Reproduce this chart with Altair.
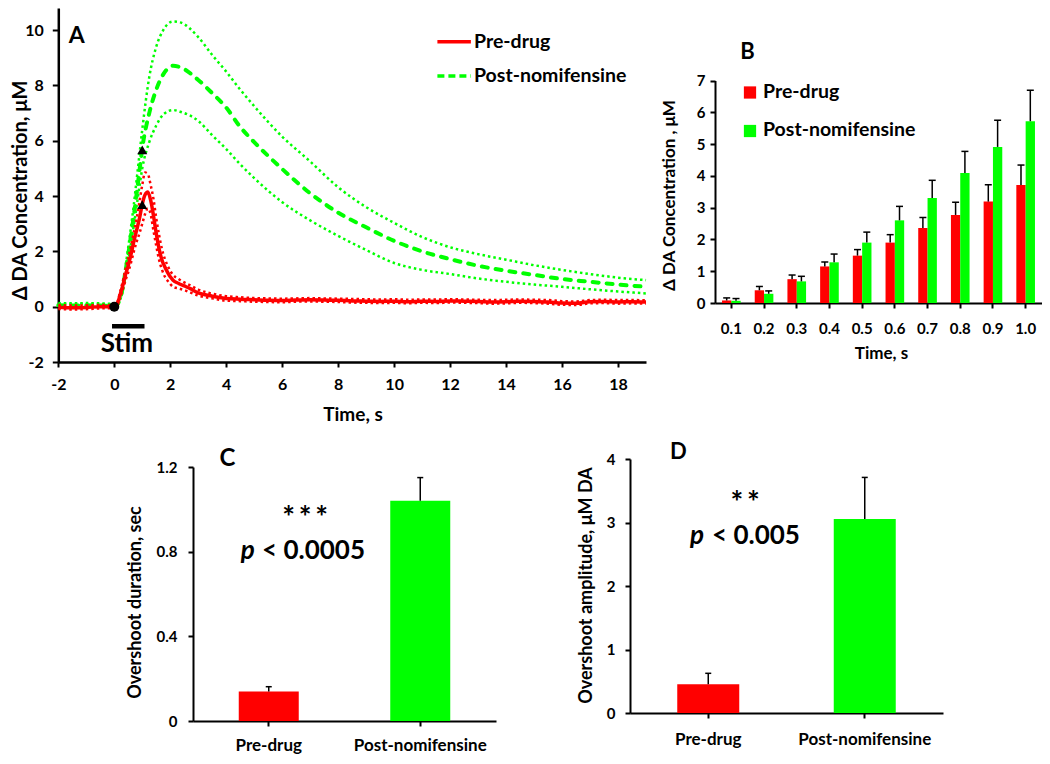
import altair as alt
import pandas as pd

FONT = "Lato"
RED = "#ff0000"
GREEN = "#00ff00"
BLACK = "#000000"

groups = ["Pre-drug", "Post-nomifensine"]

# ---------------- Panel A : time courses ----------------
red_t = [-2, -1.5, -1, -0.5, 0,
         0.1, 0.2, 0.3, 0.4, 0.5, 0.6, 0.7, 0.8, 0.9, 1.0,
         1.1, 1.2, 1.3, 1.4, 1.5, 1.6, 1.7, 1.8, 1.9, 2.0, 2.1,
         2.3, 2.5, 2.7, 3.0,
         3.5, 4.0, 4.5, 5.0, 5.5, 6.0, 6.5, 7.0, 7.5, 8.0, 8.5, 9.0, 9.5, 10.0,
         10.5, 11.0, 11.5, 12.0, 12.5, 13.0, 13.5, 14.0, 14.5, 15.0, 15.5, 16.0,
         16.5, 17.0, 17.5, 18.0, 18.5, 19.0]
red_mean = [-0.02, -0.04, -0.03, 0.00, 0.00,
            0.08, 0.40, 0.75, 1.15, 1.49, 1.90, 2.36, 2.77, 3.19, 3.71,
            4.05, 4.15, 3.85, 3.30, 2.65, 2.10, 1.70, 1.45, 1.25, 1.08, 0.96,
            0.84, 0.75, 0.66, 0.50,
            0.38, 0.30, 0.27, 0.25, 0.23, 0.22, 0.24, 0.25, 0.24, 0.23, 0.21, 0.20, 0.19, 0.20,
            0.18, 0.20, 0.19, 0.21, 0.20, 0.19, 0.17, 0.18, 0.20, 0.19, 0.17, 0.13,
            0.12, 0.18, 0.19, 0.17, 0.18, 0.17]
red_hi = [0.06, 0.04, 0.05, 0.06, 0.05,
          0.15, 0.50, 0.90, 1.35, 1.75, 2.20, 2.70, 3.20, 3.80, 4.40,
          4.85, 4.80, 4.40, 3.90, 3.20, 2.60, 2.10, 1.75, 1.50, 1.30, 1.15,
          1.00, 0.88, 0.78, 0.62,
          0.47, 0.38, 0.34, 0.31, 0.30, 0.29, 0.30, 0.31, 0.30, 0.29, 0.28, 0.27, 0.26, 0.27,
          0.25, 0.26, 0.26, 0.27, 0.26, 0.25, 0.24, 0.25, 0.26, 0.25, 0.24, 0.20,
          0.19, 0.24, 0.25, 0.24, 0.24, 0.23]
red_lo = [-0.08, -0.10, -0.09, -0.06, -0.05,
          0.02, 0.30, 0.60, 0.95, 1.25, 1.60, 2.00, 2.35, 2.65, 3.00,
          3.35, 3.55, 3.35, 2.75, 2.20, 1.70, 1.35, 1.10, 0.95, 0.82, 0.72,
          0.66, 0.60, 0.52, 0.40,
          0.30, 0.22, 0.20, 0.18, 0.17, 0.16, 0.18, 0.19, 0.18, 0.17, 0.15, 0.14, 0.13, 0.14,
          0.12, 0.14, 0.13, 0.15, 0.14, 0.13, 0.11, 0.12, 0.14, 0.13, 0.11, 0.07,
          0.06, 0.12, 0.13, 0.11, 0.12, 0.11]

green_t = [-2, -1.5, -1, -0.5, 0,
           0.1, 0.2, 0.3, 0.4, 0.5, 0.6, 0.7, 0.8, 0.9, 1.0,
           1.25, 1.5, 1.75, 2.1, 2.35,
           3.0, 3.5, 4.0, 4.5, 5.0,
           6, 7, 8, 9, 10, 11, 12, 13, 14, 15, 16, 17, 18, 19]
green_mean = [0.05, 0.04, 0.05, 0.04, 0.03,
              0.07, 0.29, 0.68, 1.28, 1.90, 2.60, 3.30, 4.09, 4.91, 5.72,
              7.00, 7.85, 8.40, 8.71, 8.66,
              8.20, 7.72, 7.20, 6.50, 5.95,
              4.98, 4.10, 3.40, 2.87, 2.38, 2.00, 1.72, 1.48, 1.30, 1.15, 1.00, 0.90, 0.80, 0.72]
green_hi = [0.13, 0.12, 0.13, 0.12, 0.10,
            0.12, 0.38, 0.82, 1.45, 2.15, 2.90, 3.70, 4.60, 5.50, 6.40,
            8.30, 9.40, 10.00, 10.31, 10.28,
            9.75, 9.10, 8.50, 7.85, 7.25,
            6.15, 5.25, 4.32, 3.60, 3.03, 2.52, 2.15, 1.90, 1.70, 1.50, 1.33, 1.18, 1.05, 0.96]
green_lo = [0.10, 0.09, 0.10, 0.09, 0.08,
            0.04, 0.22, 0.55, 1.10, 1.65, 2.30, 2.95, 3.65, 4.35, 5.00,
            5.95, 6.55, 6.95, 7.11, 7.05,
            6.72, 6.20, 5.70, 5.15, 4.65,
            3.78, 3.12, 2.56, 2.05, 1.58, 1.33, 1.18, 1.02, 0.90, 0.80, 0.72, 0.63, 0.55, 0.48]

marker_t = [0.0, 1.0, 1.0]
marker_v = [0.0, 5.67, 3.69]
marker_shape = ["circle", "triangle-up", "triangle-up"]

stim_on, stim_off = 0.0, 1.0

# ---------------- Panel B : first second ----------------
times = ["0.1", "0.2", "0.3", "0.4", "0.5", "0.6", "0.7", "0.8", "0.9", "1.0"]
pre_mean = [0.08, 0.40, 0.75, 1.15, 1.49, 1.90, 2.36, 2.77, 3.19, 3.71]
pre_top = [0.16, 0.52, 0.88, 1.29, 1.68, 2.15, 2.69, 3.17, 3.72, 4.34]
post_mean = [0.07, 0.29, 0.68, 1.28, 1.90, 2.60, 3.30, 4.09, 4.91, 5.72]
post_top = [0.14, 0.38, 0.84, 1.54, 2.23, 3.04, 3.86, 4.77, 5.75, 6.69]

# ---------------- Panels C, D ----------------
dur_mean = [0.139, 1.041]
dur_top = [0.162, 1.150]
amp_mean = [0.452, 3.055]
amp_top = [0.625, 3.710]

one = pd.DataFrame({"k": [0]})

W, H = 1034, 748  # whole drawing area (page minus margins)
HYPHEN = "replace(datum.label, '\u2212', '-')"


def ax(**kw):
    base = dict(labelFont=FONT, labelFontWeight="bold", labelColor=BLACK,
                titleFont=FONT, titleFontWeight="bold", titleColor=BLACK,
                domainColor=BLACK, tickColor=BLACK, grid=False,
                labelFlush=False, labelOverlap=False,
                domainWidth=2, tickWidth=2, tickSize=5)
    base.update(kw)
    return alt.Axis(**base)


def txt(text, x, y, size, align="center", baseline="middle", italic=False):
    return alt.Chart(one).mark_text(
        text=text, font=FONT, fontWeight="bold",
        fontStyle="italic" if italic else "normal", fontSize=size,
        align=align, baseline=baseline, color=BLACK
    ).encode(x=alt.value(x), y=alt.value(y))


colorG = alt.Color("group:N", scale=alt.Scale(domain=groups, range=[RED, GREEN]), legend=None)

# ================= A =================
A_X0, A_X1, A_Y0, A_Y1 = 50.3, 638, 354, 0
A_xaxis = ax(orient="bottom", offset=A_Y0 - H, values=list(range(-2, 19, 2)),
             title="Time, s", titleFontSize=19, labelFontSize=16, labelPadding=9,
             titleX=344.5, titleY=43, domainWidth=2.5, labelExpr=HYPHEN)
A_yaxis = ax(orient="left", offset=-A_X0, values=list(range(-2, 11, 2)),
             title="Δ DA Concentration, μM", titleFontSize=20, labelFontSize=16,
             tickSize=6, labelPadding=9, titleX=-28, titleY=182, domainWidth=2.5,
             labelExpr=HYPHEN)


def xA(f="t"):
    return alt.X(f"{f}:Q", scale=alt.Scale(domain=[-2, 19], range=[A_X0, A_X1], nice=False),
                 axis=A_xaxis)


def yA(f):
    return alt.Y(f"{f}:Q", scale=alt.Scale(domain=[-2, 10.8], range=[A_Y0, A_Y1], nice=False),
                 axis=A_yaxis)


dfR = pd.DataFrame({"t": red_t, "mean": red_mean, "hi": red_hi, "lo": red_lo})
dfG = pd.DataFrame({"t": green_t, "mean": green_mean, "hi": green_hi, "lo": green_lo})


def curve(df, f, color, width, dash=None, cap="butt"):
    kw = dict(color=color, strokeWidth=width, interpolate="monotone", strokeCap=cap)
    if dash is not None:
        kw["strokeDash"] = dash
    return alt.Chart(df).mark_line(**kw).encode(x=xA(), y=yA(f))


dot = [2.5, 3]
g_hi = curve(dfG, "hi", GREEN, 2.5, dot)
g_lo = curve(dfG, "lo", GREEN, 2.5, dot)
g_mean = curve(dfG, "mean", GREEN, 4, [6, 8], cap="round")
r_hi = curve(dfR, "hi", RED, 2.5, dot)
r_lo = curve(dfR, "lo", RED, 2.5, dot)
r_mean = curve(dfR, "mean", RED, 3.5)

dfM = pd.DataFrame({"t": marker_t, "v": marker_v, "shape": marker_shape})
markers = alt.Chart(dfM).mark_point(filled=True, color=BLACK, opacity=1, size=100).encode(
    x=xA(), y=yA("v"), shape=alt.Shape("shape:N", scale=None, legend=None))

dfS = pd.DataFrame({"t0": [stim_on], "t1": [stim_off], "v": [-0.71]})
stim_bar = alt.Chart(dfS).mark_rule(color=BLACK, strokeWidth=4.5, strokeCap="square").encode(
    x=xA("t0"), x2=alt.X2("t1"), y=yA("v"))
dfST = pd.DataFrame({"t": [0.45], "v": [-1.34], "label": ["Stim"]})
stim_txt = alt.Chart(dfST).mark_text(font=FONT, fontWeight="bold", fontSize=26,
                                     color=BLACK).encode(x=xA(), y=yA("v"), text="label:N")

leg_red = alt.Chart(one).mark_rule(color=RED, strokeWidth=3.5).encode(
    x=alt.value(429.4), x2=alt.value(462.9), y=alt.value(33.7))
leg_green = alt.Chart(one).mark_rule(color=GREEN, strokeWidth=3.5, strokeDash=[7, 4]).encode(
    x=alt.value(429.4), x2=alt.value(462.9), y=alt.value(68))

A = alt.layer(
    g_hi, g_lo, g_mean, r_lo, r_hi, r_mean, markers, stim_bar, stim_txt,
    txt("A", 68.7, 27.8, 23),
    leg_red, leg_green,
    txt(groups[0], 466, 33.7, 19.5, align="left"),
    txt(groups[1], 466, 68, 19.5, align="left"),
)

# ================= B =================
B_X0, B_X1, B_Y0, B_Y1 = 707, 1034, 295, 72.5
dfB = pd.DataFrame({
    "time": times * 2,
    "group": [groups[0]] * len(times) + [groups[1]] * len(times),
    "mean": pre_mean + post_mean,
    "top": pre_top + post_top,
})
B_xaxis = ax(orient="bottom", offset=B_Y0 - H, title="Time, s", titleFontSize=17,
             labelFontSize=15, labelAngle=0, labelPadding=13, titleX=873, titleY=42)
B_yaxis = ax(orient="left", offset=-B_X0, values=list(range(0, 8)),
             title="Δ DA Concentration , μM", titleFontSize=17, labelFontSize=15,
             labelPadding=5, titleX=-36.5, titleY=187)
xB = alt.X("time:N", sort=times,
           scale=alt.Scale(domain=times, range=[B_X0, B_X1], paddingInner=0.43,
                           paddingOuter=0.215), axis=B_xaxis)
xoB = alt.XOffset("group:N", sort=groups,
                  scale=alt.Scale(domain=groups, paddingInner=0, paddingOuter=0))


def yB(f):
    return alt.Y(f"{f}:Q", scale=alt.Scale(domain=[0, 7], range=[B_Y0, B_Y1], nice=False),
                 axis=B_yaxis)


B_bars = alt.Chart(dfB).mark_bar().encode(x=xB, xOffset=xoB, y=yB("mean"), color=colorG)
B_err = alt.Chart(dfB).mark_rule(color=BLACK, strokeWidth=1.5).encode(
    x=xB, xOffset=xoB, y=yB("mean"), y2=alt.Y2("top"))
B_cap = alt.Chart(dfB).mark_tick(color=BLACK, thickness=1.5, size=7, opacity=1).encode(
    x=xB, xOffset=xoB, y=yB("top"))

B = alt.layer(
    B_bars, B_err, B_cap,
    alt.Chart(one).mark_square(color=RED, size=150, opacity=1).encode(
        x=alt.value(742), y=alt.value(84.5)),
    alt.Chart(one).mark_square(color=GREEN, size=150, opacity=1).encode(
        x=alt.value(742), y=alt.value(123)),
    txt(groups[0], 755, 84, 19.5, align="left"),
    txt(groups[1], 755, 122, 19.5, align="left"),
    txt("B", 739.5, 43.7, 22),
)


# ================= C and D =================
def bar_panel(mean, top, ymax, yvals, ytitle, x0, x1, y0, y1, bar_size,
              title_x, title_y, ylabel_pad, xlabel_pad, label_expr=None):
    df = pd.DataFrame({"group": groups, "mean": mean, "top": top})
    xaxis = ax(orient="bottom", offset=y0 - H, title=None, labelFontSize=17,
               labelAngle=0, labelPadding=xlabel_pad)
    ykw = dict(orient="left", offset=-x0, values=yvals, title=ytitle, titleFontSize=18,
               labelFontSize=15, labelPadding=ylabel_pad, titleX=title_x, titleY=title_y)
    if label_expr:
        ykw["labelExpr"] = label_expr
    yaxis = ax(**ykw)
    x = alt.X("group:N", sort=groups,
              scale=alt.Scale(domain=groups, range=[x0, x1], paddingInner=0, paddingOuter=0),
              axis=xaxis)

    def y(f):
        return alt.Y(f"{f}:Q", scale=alt.Scale(domain=[0, ymax], range=[y0, y1], nice=False),
                     axis=yaxis)

    bars = alt.Chart(df).mark_bar(size=bar_size).encode(x=x, y=y("mean"), color=colorG)
    err = alt.Chart(df).mark_rule(color=BLACK, strokeWidth=1.5).encode(
        x=x, y=y("mean"), y2=alt.Y2("top"))
    cap = alt.Chart(df).mark_tick(color=BLACK, thickness=1.5, size=6, opacity=1).encode(
        x=x, y=y("top"))
    return [bars, err, cap]


STARS3 = "*\u2009*\u2009*"
STARS2 = "*\u2009*"

C = alt.layer(
    *bar_panel(dur_mean, dur_top, 1.2, [0, 0.4, 0.8, 1.2], "Overshoot duration, sec",
               185, 488, 713, 459, 60, -49, 594, 11, 11,
               "datum.value == 0 ? '0' : format(datum.value, '.1f')"),
    txt("C", 219.5, 451, 24),
    txt(STARS3, 297, 519.5, 30, baseline="alphabetic"),
    txt("p", 232.7, 551, 26, align="left", baseline="alphabetic", italic=True),
    txt("< 0.0005", 254, 551, 26, align="left", baseline="alphabetic"),
)

D = alt.layer(
    *bar_panel(amp_mean, amp_top, 4, [0, 1, 2, 3, 4], "Overshoot amplitude, μM DA",
               622, 935, 705, 451, 62, -34.3, 577, 10, 13),
    txt("D", 670.3, 444.3, 22),
    txt(STARS2, 737, 505, 30, baseline="alphabetic"),
    txt("p", 682, 536, 26, align="left", baseline="alphabetic", italic=True),
    txt("< 0.005", 704, 536, 26, align="left", baseline="alphabetic"),
)

chart = alt.layer(A, B, C, D).resolve_scale(
    x="independent", y="independent", xOffset="independent"
).resolve_axis(
    x="independent", y="independent"
).properties(
    width=W, height=H, padding=0, autosize=alt.AutoSizeParams(type="none")
).configure_view(stroke=None)

chart.save("out.html", embed_options={"renderer": "svg", "actions": False})
